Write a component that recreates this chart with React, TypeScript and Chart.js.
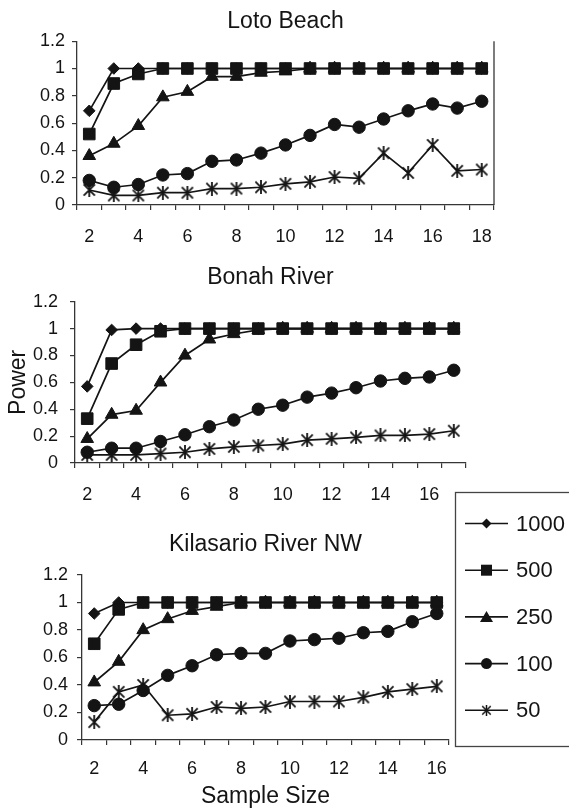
import React, { useEffect, useRef } from 'react';
import { Chart, registerables } from 'chart.js';

Chart.register(...registerables);

const FONT = "'Liberation Sans', Arial, Helvetica, sans-serif";
const INK = '#141414';
const AXIS = '#363636';

// ---- data ----
const SERIES = ['1000', '500', '250', '100', '50'];
const Y_TICKS = [0, 0.2, 0.4, 0.6, 0.8, 1, 1.2];

const LOTO_TITLE = 'Loto Beach';
const LOTO_SIZES = ['2', '3', '4', '5', '6', '7', '8', '9', '10', '11', '12', '13', '14', '15', '16', '17', '18'];
const LOTO_1000 = [0.69, 1, 1, 1, 1, 1, 1, 1, 1, 1, 1, 1, 1, 1, 1, 1, 1];
const LOTO_500 = [0.52, 0.89, 0.96, 1, 1, 1, 1, 1, 1, 1, 1, 1, 1, 1, 1, 1, 1];
const LOTO_250 = [0.36, 0.45, 0.58, 0.79, 0.83, 0.94, 0.94, 0.97, 0.98, 1, 1, 1, 1, 1, 1, 1, 1];
const LOTO_100 = [0.18, 0.13, 0.15, 0.22, 0.23, 0.32, 0.33, 0.38, 0.44, 0.51, 0.59, 0.57, 0.63, 0.69, 0.74, 0.71, 0.76];
const LOTO_50 = [0.11, 0.07, 0.07, 0.09, 0.09, 0.12, 0.12, 0.13, 0.155, 0.17, 0.205, 0.195, 0.38, 0.235, 0.44, 0.25, 0.26];

const BONAH_TITLE = 'Bonah River';
const BONAH_SIZES = ['2', '3', '4', '5', '6', '7', '8', '9', '10', '11', '12', '13', '14', '15', '16', '17'];
const BONAH_1000 = [0.57, 0.99, 1, 1, 1, 1, 1, 1, 1, 1, 1, 1, 1, 1, 1, 1];
const BONAH_500 = [0.33, 0.74, 0.88, 0.98, 1, 1, 1, 1, 1, 1, 1, 1, 1, 1, 1, 1];
const BONAH_250 = [0.18, 0.36, 0.39, 0.6, 0.8, 0.92, 0.96, 0.99, 1, 1, 1, 1, 1, 1, 1, 1];
const BONAH_100 = [0.08, 0.11, 0.11, 0.16, 0.21, 0.27, 0.32, 0.4, 0.43, 0.49, 0.52, 0.56, 0.61, 0.63, 0.64, 0.69];
const BONAH_50 = [0.06, 0.06, 0.06, 0.07, 0.08, 0.105, 0.12, 0.13, 0.14, 0.17, 0.18, 0.19, 0.205, 0.205, 0.215, 0.24];

const KILA_TITLE = 'Kilasario River NW';
const KILA_SIZES = ['2', '3', '4', '5', '6', '7', '8', '9', '10', '11', '12', '13', '14', '15', '16'];
const KILA_1000 = [0.92, 1, 1, 1, 1, 1, 1, 1, 1, 1, 1, 1, 1, 1, 1];
const KILA_500 = [0.7, 0.95, 1, 1, 1, 1, 1, 1, 1, 1, 1, 1, 1, 1, 1];
const KILA_250 = [0.42, 0.57, 0.8, 0.88, 0.94, 0.97, 1, 1, 1, 1, 1, 1, 1, 1, 1];
const KILA_100 = [0.25, 0.26, 0.36, 0.47, 0.54, 0.62, 0.63, 0.63, 0.72, 0.73, 0.74, 0.78, 0.79, 0.86, 0.92];
const KILA_50 = [0.13, 0.35, 0.4, 0.18, 0.19, 0.24, 0.23, 0.24, 0.28, 0.28, 0.28, 0.31, 0.35, 0.37, 0.39];

const Y_TITLE = 'Power';
const X_TITLE = 'Sample Size';

// ---- styles ----
const MARKERS = ['rectRot', 'rect', 'triangle', 'circle', 'star'];
const RADII = [5.8, 8.2, 7.3, 6.2, 7];
const TICK_SIZE = 18;
const TITLE_SIZE = 23;
const AXIS_TITLE_SIZE = 23;
const LEGEND_SIZE = 22;

type Geo = {
  top: number;
  height: number;
  padRight: number;
  titlePadTop: number;
  titlePadBottom: number;
  yWidth: number;
  yPad: number;
  xHeight: number;
  xPad: number;
  yTitle?: string;
  xTitle?: string;
  rightBorder?: boolean;
  legend?: boolean;
};

const GEO1: Geo = { top: 0, height: 250, padRight: 75, titlePadTop: 7.9, titlePadBottom: 5.7, yWidth: 77, yPad: 7, xHeight: 45, xPad: 15.9, rightBorder: true };
const GEO2: Geo = { top: 255, height: 250, padRight: 103, titlePadTop: 9.2, titlePadBottom: 9.9, yWidth: 75, yPad: 12, xHeight: 42, xPad: 16.2, yTitle: Y_TITLE };
const GEO3: Geo = { top: 480, height: 330, padRight: 120, titlePadTop: 51.2, titlePadBottom: 16.2, yWidth: 82, yPad: 9, xHeight: 70, xPad: 13.5, xTitle: X_TITLE, legend: true };

function makeStar(size: number, lw: number): HTMLCanvasElement {
  const c = document.createElement('canvas');
  c.width = size;
  c.height = size;
  const ctx = c.getContext('2d')!;
  ctx.strokeStyle = INK;
  ctx.lineWidth = lw;
  const m = lw / 2 + 0.5;
  ctx.beginPath();
  ctx.moveTo(m, m);
  ctx.lineTo(size - m, size - m);
  ctx.moveTo(size - m, m);
  ctx.lineTo(m, size - m);
  ctx.moveTo(size / 2, 0);
  ctx.lineTo(size / 2, size);
  ctx.stroke();
  return c;
}

function drawLegendMarker(ctx: CanvasRenderingContext2D, i: number, x: number, y: number, star: HTMLCanvasElement) {
  ctx.fillStyle = INK;
  ctx.beginPath();
  if (i === 0) {
    const r = 5;
    ctx.moveTo(x - r, y);
    ctx.lineTo(x, y - r);
    ctx.lineTo(x + r, y);
    ctx.lineTo(x, y + r);
    ctx.closePath();
    ctx.fill();
  } else if (i === 1) {
    ctx.rect(x - 5.5, y - 5.5, 11, 11);
    ctx.fill();
  } else if (i === 2) {
    ctx.moveTo(x, y - 6);
    ctx.lineTo(x + 6.5, y + 5);
    ctx.lineTo(x - 6.5, y + 5);
    ctx.closePath();
    ctx.fill();
  } else if (i === 3) {
    ctx.arc(x, y, 5.5, 0, Math.PI * 2);
    ctx.fill();
  } else {
    ctx.drawImage(star, x - star.width / 2, y - star.height / 2);
  }
}

function buildChart(canvas: HTMLCanvasElement, title: string, labels: string[], series: number[][], g: Geo, star: HTMLCanvasElement, legendStar: HTMLCanvasElement) {
  const plugins: any[] = [];
  if (g.rightBorder) {
    plugins.push({
      id: 'rightBorder',
      afterDraw(chart: any) {
        const { ctx, chartArea: a } = chart;
        ctx.save();
        ctx.strokeStyle = AXIS;
        ctx.lineWidth = 1.3;
        ctx.beginPath();
        ctx.moveTo(a.right, a.top);
        ctx.lineTo(a.right, a.bottom);
        ctx.stroke();
        ctx.restore();
      },
    });
  }
  if (g.legend) {
    plugins.push({
      id: 'sideLegend',
      afterDraw(chart: any) {
        const ctx: CanvasRenderingContext2D = chart.ctx;
        ctx.save();
        ctx.strokeStyle = '#444';
        ctx.lineWidth = 1.3;
        ctx.strokeRect(455.5, 12.5, 140, 254);
        SERIES.forEach((name, i) => {
          const y = 43.5 + i * 46.7;
          ctx.strokeStyle = INK;
          ctx.lineWidth = 1.6;
          ctx.beginPath();
          ctx.moveTo(465, y);
          ctx.lineTo(508, y);
          ctx.stroke();
          drawLegendMarker(ctx, i, 486.5, y, legendStar);
          ctx.fillStyle = INK;
          ctx.font = `${LEGEND_SIZE}px ${FONT}`;
          ctx.textBaseline = 'middle';
          ctx.textAlign = 'left';
          ctx.fillText(name, 516, y + 1);
        });
        ctx.restore();
      },
    });
  }

  const datasets = series.map((vals, i) => ({
    label: SERIES[i],
    data: vals,
    borderColor: INK,
    backgroundColor: INK,
    borderWidth: 1.7,
    pointStyle: i === 4 ? star : MARKERS[i],
    pointRadius: RADII[i],
    pointBorderWidth: 1,
    pointBackgroundColor: INK,
    pointBorderColor: INK,
    order: 5 - i,
    tension: 0,
  }));

  return new Chart(canvas, {
    type: 'line',
    data: { labels, datasets: datasets as any },
    plugins,
    options: {
      responsive: false,
      animation: false,
      events: [],
      layout: { padding: { left: 0, right: g.padRight, top: 0, bottom: 0 } },
      plugins: {
        legend: { display: false },
        tooltip: { enabled: false },
        title: {
          display: true,
          text: title,
          fullSize: false,
          color: INK,
          font: { family: FONT, size: TITLE_SIZE, weight: 'normal' },
          padding: { top: g.titlePadTop, bottom: g.titlePadBottom },
        },
      },
      scales: {
        x: {
          type: 'category',
          offset: true,
          grid: { offset: true, drawOnChartArea: false, drawTicks: true, tickLength: 5, color: AXIS, lineWidth: 1.2 },
          border: { display: true, color: AXIS, width: 1.3 },
          ticks: {
            autoSkip: false,
            maxRotation: 0,
            minRotation: 0,
            padding: g.xPad,
            color: INK,
            font: { family: FONT, size: TICK_SIZE },
            callback: (_v: any, i: number) => (i % 2 === 0 ? labels[i] : ''),
          },
          title: g.xTitle
            ? { display: true, text: g.xTitle, color: INK, font: { family: FONT, size: AXIS_TITLE_SIZE }, padding: { top: 0, bottom: 0 } }
            : { display: false },
          afterFit: (s: any) => {
            s.height = g.xHeight;
          },
        },
        y: {
          min: 0,
          max: 1.2,
          afterBuildTicks: (s: any) => {
            s.ticks = Y_TICKS.map((v) => ({ value: v }));
          },
          grid: { drawOnChartArea: false, drawTicks: true, tickLength: 5, color: AXIS, lineWidth: 1.2 },
          border: { display: true, color: AXIS, width: 1.3 },
          ticks: {
            padding: g.yPad,
            color: INK,
            font: { family: FONT, size: TICK_SIZE },
            callback: (v: any) => String(Math.round(Number(v) * 10) / 10),
          },
          title: g.yTitle
            ? { display: true, text: g.yTitle, color: INK, font: { family: FONT, size: AXIS_TITLE_SIZE }, padding: { top: 5.2, bottom: 0 } }
            : { display: false },
          afterFit: (s: any) => {
            s.width = g.yWidth;
          },
        },
      },
    } as any,
  });
}

export default function App() {
  const c1 = useRef<HTMLCanvasElement>(null);
  const c2 = useRef<HTMLCanvasElement>(null);
  const c3 = useRef<HTMLCanvasElement>(null);

  useEffect(() => {
    const star = makeStar(14, 1.8);
    const legendStar = makeStar(11, 1.5);
    const charts = [
      buildChart(c1.current!, LOTO_TITLE, LOTO_SIZES, [LOTO_1000, LOTO_500, LOTO_250, LOTO_100, LOTO_50], GEO1, star, legendStar),
      buildChart(c2.current!, BONAH_TITLE, BONAH_SIZES, [BONAH_1000, BONAH_500, BONAH_250, BONAH_100, BONAH_50], GEO2, star, legendStar),
      buildChart(c3.current!, KILA_TITLE, KILA_SIZES, [KILA_1000, KILA_500, KILA_250, KILA_100, KILA_50], GEO3, star, legendStar),
    ];
    return () => charts.forEach((c) => c.destroy());
  }, []);

  const cs = (g: Geo): React.CSSProperties => ({ position: 'absolute', left: 0, top: g.top, width: 569, height: g.height });

  return (
    <div style={{ position: 'absolute', left: 0, top: 0, width: 569, height: 810, background: '#fff', overflow: 'hidden' }}>
      <canvas ref={c1} width={569} height={GEO1.height} style={cs(GEO1)} />
      <canvas ref={c2} width={569} height={GEO2.height} style={cs(GEO2)} />
      <canvas ref={c3} width={569} height={GEO3.height} style={cs(GEO3)} />
    </div>
  );
}
